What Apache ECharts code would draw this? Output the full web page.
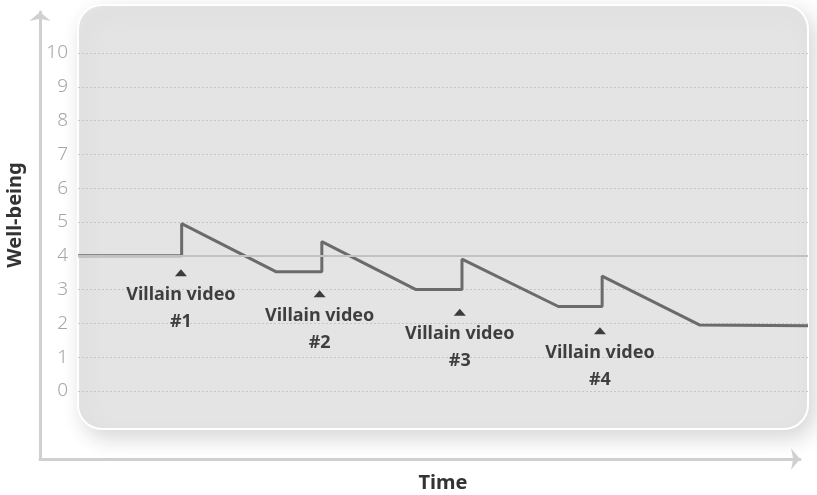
<!DOCTYPE html>
<html>
<head>
<meta charset="utf-8">
<script src="https://cdn.jsdelivr.net/npm/echarts@6/dist/echarts.min.js"></script>
<style>
  html, body { margin: 0; padding: 0; background: #fff; }
  #chart { width: 817px; height: 495px; }
</style>
</head>
<body>
<div id="chart"></div>
<script>
// 时间轴上的折点 (0-100 的相对时间) 与幸福感数值
const timePoints = [0, 14.2, 14.2, 27.1, 33.4, 33.4, 46.3, 52.6, 52.6, 65.8, 71.8, 71.8, 85.2, 100];
const wellBeing = [4, 4, 4.95, 3.53, 3.53, 4.42, 3.0, 3.0, 3.9, 2.5, 2.5, 3.4, 1.95, 1.93];

// 注释：反派视频发布时间与标注位置
const videoTimes = [14.1, 33.1, 52.3, 71.5];
const videoMarkY = [3.5, 2.88, 2.33, 1.78];
const videoLabels = ['Villain video\n#1', 'Villain video\n#2', 'Villain video\n#3', 'Villain video\n#4'];

// 纵轴刻度
const yTicks = [0, 1, 2, 3, 4, 5, 6, 7, 8, 9, 10];
const baseline = 4;

const FONT = '"Source Sans Pro", "Noto Sans", sans-serif';

const chart = echarts.init(document.getElementById('chart'));

const option = {
  animation: false,
  backgroundColor: '#fff',
  graphic: [
    {
      // 圆角灰色面板
      type: 'rect',
      z: -10,
      shape: { x: 78, y: 5, width: 730, height: 424, r: 24 },
      style: {
        fill: '#e5e4e5',
        stroke: '#ffffff',
        lineWidth: 2,
        shadowBlur: 22,
        shadowOffsetX: 6,
        shadowOffsetY: 8,
        shadowColor: 'rgba(0,0,0,0.16)'
      }
    }
  ],
  grid: [
    { left: 78, right: 9, top: 53, bottom: 104, outerBoundsMode: 'none' },
    // 外侧箭头坐标轴
    { left: 40, right: 17, top: 12, bottom: 36, outerBoundsMode: 'none' }
  ],
  xAxis: [
    {
      gridIndex: 0,
      type: 'value',
      min: 0,
      max: 100,
      name: 'Time',
      nameLocation: 'middle',
      nameGap: 82,
      nameTextStyle: { fontFamily: FONT, fontSize: 20, fontWeight: 'bold', color: '#333' },
      axisLine: { show: false },
      axisTick: { show: false },
      axisLabel: { show: false },
      splitLine: { show: false }
    },
    {
      gridIndex: 1,
      type: 'value',
      min: 0,
      max: 1,
      axisLine: {
        show: true,
        symbol: ['none', 'arrow'],
        symbolSize: [16, 9],
        lineStyle: { color: '#d0d0d0', width: 3 }
      },
      axisTick: { show: false },
      axisLabel: { show: false },
      splitLine: { show: false }
    }
  ],
  yAxis: [
    {
      gridIndex: 0,
      type: 'value',
      min: yTicks[0],
      max: yTicks[yTicks.length - 1],
      interval: 1,
      name: 'Well-being',
      nameLocation: 'middle',
      nameGap: 53,
      nameTextStyle: {
        fontFamily: FONT, fontSize: 20, fontWeight: 'bold', color: '#333',
        padding: [0, 0, 0, 14]
      },
      axisLine: { show: false },
      axisTick: { show: false },
      axisLabel: {
        margin: 10,
        fontFamily: FONT,
        fontSize: 19,
        fontWeight: 300,
        color: '#a6a6a6'
      },
      splitLine: {
        show: true,
        lineStyle: { color: '#c6c6c6', type: [2, 2], width: 1 }
      }
    },
    {
      gridIndex: 1,
      type: 'value',
      min: 0,
      max: 1,
      axisLine: {
        show: true,
        symbol: ['none', 'arrow'],
        symbolSize: [16, 9],
        lineStyle: { color: '#d0d0d0', width: 3 }
      },
      axisTick: { show: false },
      axisLabel: { show: false },
      splitLine: { show: false }
    }
  ],
  series: [
    {
      // 基准线
      type: 'line',
      xAxisIndex: 0,
      yAxisIndex: 0,
      data: [],
      z: 1,
      markLine: {
        silent: true,
        symbol: ['none', 'none'],
        label: { show: false },
        lineStyle: { color: '#c2c2c2', type: 'solid', width: 2 },
        data: [{ yAxis: baseline }]
      }
    },
    {
      name: 'Well-being',
      type: 'line',
      xAxisIndex: 0,
      yAxisIndex: 0,
      z: 3,
      symbol: 'none',
      lineStyle: { color: '#6b6b6b', width: 3 },
      data: timePoints.map((t, i) => [t, wellBeing[i]])
    },
    {
      name: 'Villain videos',
      type: 'scatter',
      xAxisIndex: 0,
      yAxisIndex: 0,
      z: 4,
      symbol: 'triangle',
      symbolSize: [12, 7],
      itemStyle: { color: '#111' },
      label: {
        show: true,
        position: 'bottom',
        distance: 5,
        fontFamily: FONT,
        fontSize: 18,
        fontWeight: 'bold',
        lineHeight: 27,
        color: '#141414',
        align: 'center',
        formatter: (p) => videoLabels[p.dataIndex]
      },
      data: videoTimes.map((t, i) => [t, videoMarkY[i]])
    }
  ]
};

chart.setOption(option);
</script>
</body>
</html>
